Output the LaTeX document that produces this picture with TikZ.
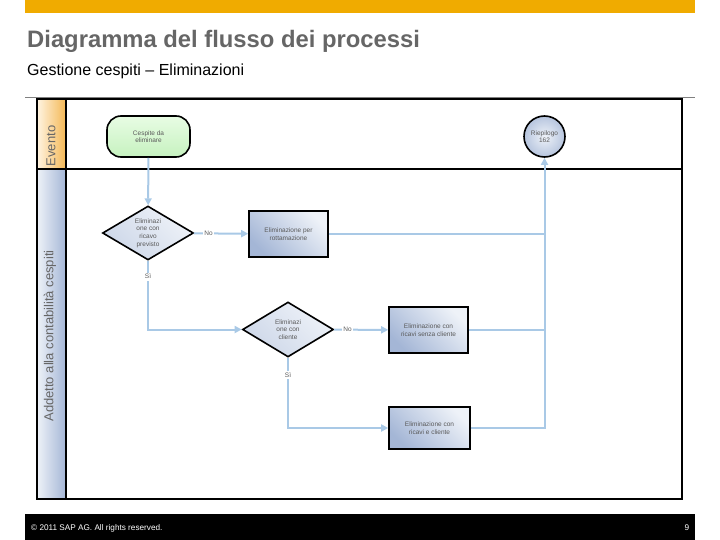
\documentclass[tikz,border=0pt]{standalone}
\usepackage{fontspec}
\setmainfont{Liberation Sans}
\usetikzlibrary{shapes.geometric,arrows.meta}

\definecolor{sapgold}{HTML}{F0AB00}
\definecolor{titlegray}{HTML}{666666}
\definecolor{nodegray}{HTML}{5A5A5A}
\definecolor{flowblue}{HTML}{A9C9E6}
\definecolor{boxlight}{HTML}{EEF2F8}
\definecolor{boxdark}{HTML}{A4B6D6}
\definecolor{evtlight}{HTML}{FFF4E2}
\definecolor{evtdark}{HTML}{F4B855}
\definecolor{greenlight}{HTML}{E8FCE4}
\definecolor{greendark}{HTML}{C6F2BF}

\tikzset{
  small/.style={font=\fontsize{6.5}{7.6}\selectfont, text=nodegray, align=center},
  terminator/.style={small, draw, line width=1.6pt, rounded corners=14pt,
    minimum width=83pt, minimum height=41pt, top color=greenlight, bottom color=greendark},
  decision/.style={small, diamond, draw, line width=1.6pt, inner sep=0pt, aspect=1.68,
    minimum width=91pt, minimum height=54pt, left color=boxdark!55, right color=boxlight, shading angle=135},
  activity/.style={small, draw, line width=1.6pt, minimum width=79pt, minimum height=46pt,
    left color=boxdark, right color=boxlight, shading angle=135},
  endevent/.style={small, circle, draw, line width=1.6pt, minimum size=41pt, inner sep=0pt,
    inner color=boxlight, outer color=boxdark!80},
  flow/.style={draw=flowblue, line width=2pt, -{Triangle[length=7pt,width=7pt]}},
  joinline/.style={draw=flowblue, line width=2pt},
  lbl/.style={small, fill=white, inner sep=1.5pt},
  lanetext/.style={rotate=90, text=titlegray, font=\fontsize{13}{13}\selectfont}
}

\begin{document}
\begin{tikzpicture}[x=1pt, y=-1pt]
  \useasboundingbox (0,0) rectangle (720,540);

  \fill[sapgold] (25,0) rectangle (695,12.7);
  \node[anchor=base west, inner sep=0pt, text=titlegray, font=\fontsize{23.8}{24}\selectfont\bfseries] (title) at (27,48) {Diagramma del flusso dei processi};
  \node[anchor=base west, inner sep=0pt, font=\fontsize{16}{16}\selectfont] (subtitle) at (27,76) {Gestione cespiti -- Eliminazioni};
  \draw[gray, line width=1pt] (25,97.3) -- (695,97.3);

  \shade[left color=evtlight, right color=evtdark] (37,99.5) rectangle (66,169);
  \shade[left color=boxlight, right color=boxdark] (37,169) rectangle (66,499);
  \draw[line width=2pt] (37,99.5) rectangle (682,499);
  \draw[line width=2pt] (37,169) -- (682,169);
  \draw[line width=2pt] (66,99.5) -- (66,499);
  \node[lanetext] (evento) at (51,146) {Evento};
  \node[lanetext] (addetto) at (50,336) {Addetto alla contabilità cespiti};

  \node[terminator] (cespite) at (148.5,136.5) {Cespite da\\eliminare};
  \node[endevent] (riep) at (544.5,136.5) {Riepilogo\\162};
  \node[decision] (ricavo) at (148,233) {Eliminazi\\one con\\ricavo\\previsto};
  \node[activity] (rottam) at (288.5,234) {Eliminazione per\\rottamazione};
  \node[decision, minimum height=55pt] (cliente) at (288,329.5) {Eliminazi\\one con\\cliente};
  \node[activity] (senza) at (428.5,330) {Eliminazione con\\ricavi senza cliente};
  \node[activity, minimum width=81pt, minimum height=42pt] (concli) at (429.5,428) {Eliminazione con\\ricavi e cliente};

  \draw[flow] (cespite) -- (ricavo);
  \draw[flow] (ricavo) -- node[lbl, pos=0.27]{No} (rottam);
  \draw[joinline] (rottam) -- (rottam -| riep);
  \draw[flow] (ricavo) |- node[lbl, pos=0.115]{Sì} (cliente);
  \draw[flow] (cliente) -- node[lbl, pos=0.25]{No} (senza);
  \draw[joinline] (senza) -- (senza -| riep);
  \draw[flow] (cliente) |- node[lbl, pos=0.125]{Sì} (concli);
  \draw[flow] (concli) -| (riep);

  \fill[black] (25,514) rectangle (695,540);
  \node[anchor=base west, inner sep=0pt, text=white, font=\fontsize{8.2}{8.2}\selectfont] (copyr) at (31,530) {© 2011 SAP AG. All rights reserved.};
  \node[anchor=base, inner sep=0pt, text=white, font=\fontsize{8.2}{8.2}\selectfont] (pagenum) at (687,530) {9};
\end{tikzpicture}
\end{document}
